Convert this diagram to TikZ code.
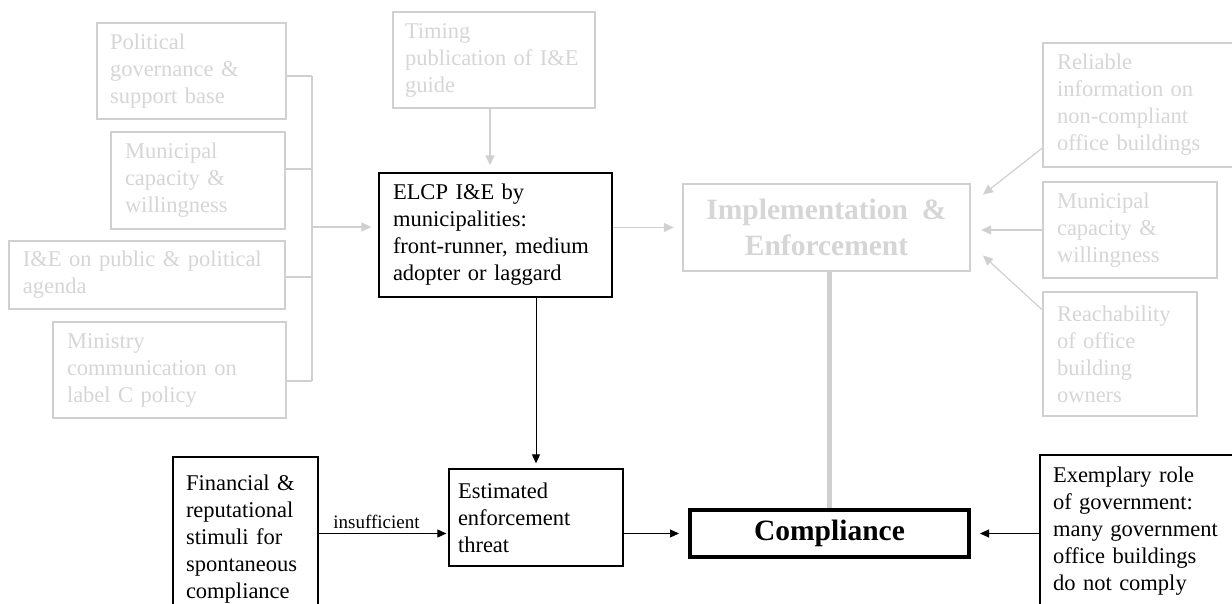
\documentclass[tikz,border=0pt]{standalone}
\usepackage{fontspec}
\setmainfont{Liberation Serif}
\usetikzlibrary{arrows.meta}
\definecolor{gline}{RGB}{208,208,208}
\definecolor{gtext}{RGB}{214,214,214}
\begin{document}
\begin{tikzpicture}[x=1pt,y=-1pt,
  base/.style={rectangle, inner ysep=0pt, align=left, font=\fontsize{22.5}{27}\selectfont},
  gbox/.style={base, draw=gline, line width=1.2pt, text=gtext},
  bbox/.style={base, draw=black, line width=1.3pt, text=black},
  gcon/.style={draw=gline, line width=1.2pt},
  garrow/.style={gcon, -{Triangle[length=10pt,width=9pt]}},
  barrow/.style={draw=black, line width=1pt, -{Triangle[length=9pt,width=8pt]}},
  lbl/.style={font=\fontsize{19}{22}\selectfont, inner sep=4pt}
]
\clip (0,0) rectangle (1232,604);
\fill[white] (0,0) rectangle (1232,604);

% left column
\node[gbox, inner xsep=13pt, text width=163pt, minimum height=96pt] (pol) at (191.5,71) {Political\\governance \&\\support base};
\node[gbox, inner xsep=14pt, text width=146pt, minimum height=97pt] (mcl) at (198,180.5) {Municipal\\capacity \&\\willingness};
\node[gbox, inner xsep=14pt, text width=248pt, minimum height=68pt] (ien) at (147,275) {I\&E on public \& political\\agenda};
\node[gbox, inner xsep=14pt, text width=205pt, minimum height=96pt] (min) at (169.5,370) {Ministry\\communication on\\label C policy};

% centre
\node[gbox, inner xsep=12pt, text width=178pt, minimum height=96pt] (tim) at (494,60) {Timing\\publication of I\&E\\guide};
\node[bbox, inner xsep=14pt, text width=205pt, minimum height=124pt] (elcp) at (495.5,235) {ELCP I\&E by\\municipalities:\\front-runner, medium\\adopter or laggard};
\node[gbox, line width=2.4pt, align=center, inner xsep=0pt, minimum width=287pt, minimum height=87pt, font=\fontsize{29.5}{36}\selectfont\bfseries] (impl) at (826.5,227.5) {Implementation\hspace{14pt}\&\\Enforcement};

% right column
\node[gbox, inner xsep=14pt, text width=165pt, minimum height=124pt] (rel) at (1139.5,105) {Reliable\\information on\\non-compliant\\office buildings};
\node[gbox, inner xsep=14pt, text width=146pt, minimum height=96pt] (mcr) at (1130,230) {Municipal\\capacity \&\\willingness};
\node[gbox, inner xsep=14pt, text width=126pt, minimum height=124pt] (rea) at (1120,354) {Reachability\\of office\\building\\owners};

% bottom row
\node[bbox, inner xsep=13pt, text width=119pt, minimum height=165pt] (fin) at (245.5,539.5) {Financial \&\\reputational\\stimuli for\\spontaneous\\compliance};
\node[bbox, inner xsep=9pt, text width=156pt, minimum height=97pt] (est) at (536,517.5) {Estimated\\enforcement\\threat};
\node[bbox, line width=4pt, align=center, inner xsep=0pt, minimum width=279pt, minimum height=47pt, font=\fontsize{29.5}{36}\selectfont\bfseries] (comp) at (829.5,533.5) {Compliance};
\node[bbox, inner xsep=13pt, text width=179pt, minimum height=153pt] (exe) at (1142.5,531.5) {Exemplary role\\of government:\\many government\\office buildings\\do not comply};

% left bus
\coordinate (b1) at (312,76);
\coordinate (b2) at (312,169);
\coordinate (b3) at (312,277);
\coordinate (b4) at (312,381);
\coordinate (bus) at (312,227);
\draw[gcon] (pol.east |- b1) -- (b1);
\draw[gcon] (mcl.east |- b2) -- (b2);
\draw[gcon] (ien.east |- b3) -- (b3);
\draw[gcon] (min.east |- b4) -- (b4);
\draw[gcon] (b1) -- (b4);
\draw[garrow, shorten >=7pt] (bus) -- (bus -| elcp.west);

% centre connectors
\draw[garrow, shorten >=7pt] ([xshift=-4pt]tim.south) -- ([xshift=-4pt]tim.south |- elcp.north);
\draw[garrow, shorten >=8pt] (elcp.east |- impl.west) -- (impl.west);
\draw[barrow, shorten >=5pt] (est.north |- elcp.south) -- (est.north);

% right connectors
\draw[garrow, shorten >=15pt] ([yshift=-43pt]rel.west) -- ([yshift=23.7pt]impl.east);
\draw[garrow, shorten >=10pt] (mcr.west) -- (mcr.west -| impl.east);
\draw[garrow, shorten >=16pt] ([yshift=44pt]rea.west) -- ([yshift=-17.2pt]impl.east);

% to compliance
\draw[draw=gline, line width=5pt] (impl.south -| comp.north) -- (comp.north);
\draw[barrow, shorten >=2pt] (fin.east |- comp.west) -- node[lbl, above, xshift=-7pt] {insufficient} (est.west |- comp.west);
\draw[barrow, shorten >=9pt] (est.east |- comp.west) -- (comp.west);
\draw[barrow, shorten >=9pt] (exe.west |- comp.east) -- (comp.east);
\end{tikzpicture}
\end{document}
